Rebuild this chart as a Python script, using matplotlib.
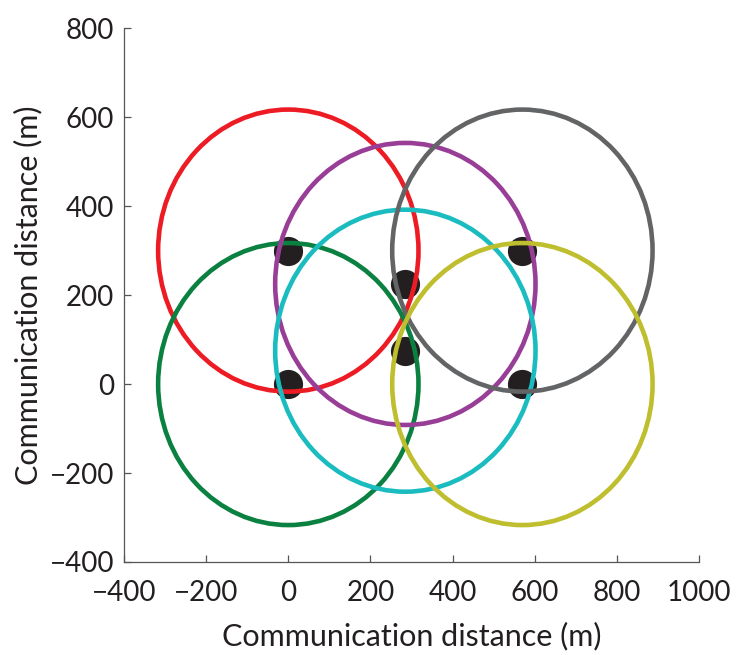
import numpy as np
import matplotlib.pyplot as plt
from matplotlib.patches import Circle

plt.rcParams['font.family'] = ['Lato', 'DejaVu Sans']

# node positions (m) and communication range
node_x = [0, 0, 285, 285, 570, 570]
node_y = [300, 0, 225, 75, 300, 0]
comm_range = 317
ring_colors = ['#ED1C24', '#0A8140', '#983E97', '#1BBCC0', '#636466', '#BFBE2F']

xticks = [-400, -200, 0, 200, 400, 600, 800, 1000]
yticks = [-400, -200, 0, 200, 400, 600, 800]

fig = plt.figure(figsize=(7.49, 6.55), dpi=100)
ax = fig.add_axes([0.1656, 0.142, 0.7676, 0.815])

ax.plot(node_x, node_y, 'o', color='#231F20', markersize=20, zorder=2)

for cx, cy, c in zip(node_x, node_y, ring_colors):
    ax.add_patch(Circle((cx, cy), comm_range, fill=False, edgecolor=c, linewidth=3.3, zorder=3))

ax.set_xlim(-400, 1000)
ax.set_ylim(-400, 800)
ax.set_xticks(xticks)
ax.set_yticks(yticks)

for s in ['top', 'right']:
    ax.spines[s].set_visible(False)
for s in ['left', 'bottom']:
    ax.spines[s].set_color('#555555')
    ax.spines[s].set_linewidth(0.9)
ax.tick_params(direction='in', length=5, width=0.9, color='#555555',
               labelsize=20, labelcolor='#231F20')
ax.tick_params(axis='x', pad=13)
ax.tick_params(axis='y', pad=7)

ax.set_xlabel('Communication distance (m)', fontsize=22, color='#231F20', labelpad=11)
ax.set_ylabel('Communication distance (m)', fontsize=22, color='#231F20', labelpad=5)

fig.savefig('out.png', dpi=100)
